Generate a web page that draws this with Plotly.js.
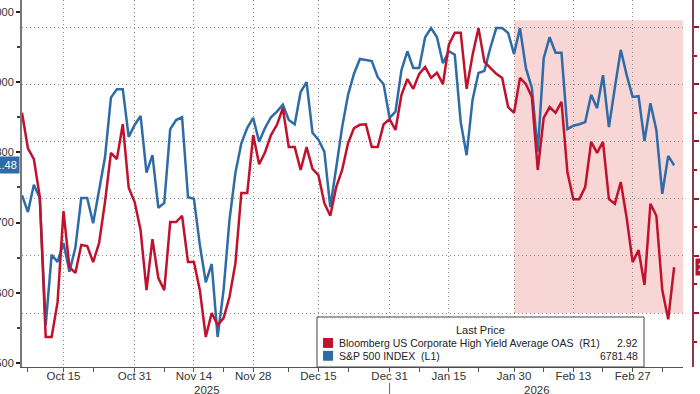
<!DOCTYPE html>
<html>
<head>
<meta charset="utf-8">
<script src="https://cdn.plot.ly/plotly-3.0.1.min.js"></script>
<style>
html,body{margin:0;padding:0;width:700px;height:394px;overflow:hidden;background:#fff;}
#chart{position:absolute;left:-30px;top:0;width:770px;height:394px;}
</style>
</head>
<body>
<div id="chart"></div>
<script>
// Trading dates (weekdays, Jan 1 holiday skipped)
const dates = [
'2025-10-06','2025-10-07','2025-10-08','2025-10-09','2025-10-10','2025-10-13','2025-10-14','2025-10-15','2025-10-16','2025-10-17',
'2025-10-20','2025-10-21','2025-10-22','2025-10-23','2025-10-24','2025-10-27','2025-10-28','2025-10-29','2025-10-30','2025-10-31',
'2025-11-03','2025-11-04','2025-11-05','2025-11-06','2025-11-07','2025-11-10','2025-11-11','2025-11-12','2025-11-13','2025-11-14',
'2025-11-17','2025-11-18','2025-11-19','2025-11-20','2025-11-21','2025-11-24','2025-11-25','2025-11-26','2025-11-27','2025-11-28',
'2025-12-01','2025-12-02','2025-12-03','2025-12-04','2025-12-05','2025-12-08','2025-12-09','2025-12-10','2025-12-11','2025-12-12',
'2025-12-15','2025-12-16','2025-12-17','2025-12-18','2025-12-19','2025-12-22','2025-12-23','2025-12-24','2025-12-25','2025-12-26',
'2025-12-29','2025-12-30','2025-12-31',
'2026-01-02','2026-01-05','2026-01-06','2026-01-07','2026-01-08','2026-01-09','2026-01-12','2026-01-13','2026-01-14','2026-01-15',
'2026-01-16','2026-01-19','2026-01-20','2026-01-21','2026-01-22','2026-01-23','2026-01-26','2026-01-27','2026-01-28','2026-01-29','2026-01-30',
'2026-02-02','2026-02-03','2026-02-04','2026-02-05','2026-02-06','2026-02-09','2026-02-10','2026-02-11','2026-02-12','2026-02-13',
'2026-02-16','2026-02-17','2026-02-18','2026-02-19','2026-02-20','2026-02-23','2026-02-24','2026-02-25','2026-02-26','2026-02-27',
'2026-03-02','2026-03-03','2026-03-04','2026-03-05','2026-03-06','2026-03-09','2026-03-10'
];

// S&P 500 INDEX (L1)
const spx = [
6739,6715,6754,6735,6554,6654,6644,6671,6630,6664,
6735,6735,6699,6746,6793,6878,6890,6890,6822,6839,
6852,6771,6796,6721,6728,6833,6846,6850,6736,6734,
6668,6615,6641,6537,6604,6704,6771,6813,6835,6849,
6815,6835,6850,6858,6868,6846,6840,6886,6900,6828,
6818,6801,6722,6778,6836,6882,6912,6933,6932,6930,
6907,6897,6849,
6858,6917,6944,6920,6920,6964,6977,6964,6927,6944,
6939,6843,6796,6875,6913,6916,6949,6977,6977,6970,6940,
6977,6920,6892,6801,6934,6964,6942,6942,6833,6838,
6840,6843,6882,6863,6910,6836,6892,6946,6910,6879,
6880,6816,6870,6832,6741,6795,6781.48
];

// Bloomberg US Corporate High Yield Average OAS (R1)
const oas = [
2.650,2.712,2.731,2.797,3.042,3.042,2.981,2.822,2.920,2.930,
2.881,2.883,2.911,2.878,2.806,2.720,2.731,2.670,2.781,2.806,
2.855,2.960,2.871,2.939,2.960,2.841,2.841,2.830,2.911,2.911,
2.960,3.042,3.000,3.021,3.009,2.972,2.913,2.790,2.790,2.689,
2.740,2.719,2.689,2.671,2.642,2.710,2.710,2.750,2.710,2.748,
2.759,2.808,2.830,2.780,2.750,2.703,2.677,2.671,2.670,2.710,
2.710,2.670,2.661,
2.680,2.619,2.591,2.608,2.582,2.570,2.589,2.580,2.600,2.531,
2.510,2.510,2.608,2.549,2.502,2.561,2.572,2.582,2.589,2.640,2.650,
2.589,2.600,2.622,2.750,2.659,2.640,2.650,2.631,2.754,2.801,
2.801,2.780,2.701,2.720,2.701,2.801,2.809,2.771,2.834,2.911,
2.890,2.951,2.809,2.830,2.960,3.011,2.92
];

const tickDates = ['2025-10-15','2025-10-31','2025-11-14','2025-11-28','2025-12-15','2025-12-31','2026-01-15','2026-01-30','2026-02-13','2026-02-27'];
const tickLabels = ['Oct 15','Oct 31','Nov 14','Nov 28','Dec 15','Dec 31','Jan 15','Jan 30','Feb 13','Feb 27'];
const minorTickDates = ['2025-10-07','2025-10-22','2025-11-07','2025-11-21','2025-12-08','2025-12-22','2026-01-08','2026-01-22','2026-02-06','2026-02-20','2026-03-06'];
const leftTicks = [6500,6600,6700,6800,6900,7000];
const rightTicks = [2.5,2.6,2.7,2.8,2.9,3.0];

const seriesNames = ['Bloomberg US Corporate High Yield Average OAS&nbsp;&nbsp;(R1)','S&amp;P 500 INDEX&nbsp;&nbsp;(L1)'];
const lastValues = ['2.92','6781.48'];

const RED = '#c0122d';
const BLUE = '#2e6ba7';
const FONT = 'Liberation Sans, Arial, sans-serif';

const traces = [
  {x: dates, y: spx, type: 'scatter', mode: 'lines', yaxis: 'y', line: {color: BLUE, width: 2.5}, hoverinfo: 'skip'},
  {x: dates, y: oas, type: 'scatter', mode: 'lines', yaxis: 'y2', line: {color: RED, width: 2.5}, hoverinfo: 'skip'}
];

const xd = 0.9866;
const layout = {
  width: 770, height: 394,
  margin: {l: 52, r: 48, t: 0, b: 27},
  paper_bgcolor: '#ffffff', plot_bgcolor: '#ffffff',
  showlegend: false,
  font: {family: FONT, size: 11, color: '#333'},
  xaxis: {
    type: 'date', domain: [0, xd],
    range: ['2025-10-06', '2026-03-11 12:00'],
    rangebreaks: [{bounds: ['sat', 'mon']}, {values: ['2026-01-01']}],
    tickmode: 'array', tickvals: tickDates, ticktext: tickLabels,
    ticks: 'outside', ticklen: 4, tickwidth: 1, tickcolor: '#555',
    ticklabelstandoff: -6,
    showgrid: true, gridcolor: '#8a8a8a', gridwidth: 1, griddash: '1px,3px',
    minor: {tickmode: 'array', tickvals: minorTickDates, ticks: 'outside', ticklen: 4, tickcolor: '#555', showgrid: false},
    showline: true, linecolor: '#555', linewidth: 1,
    zeroline: false,
    tickfont: {family: FONT, size: 11.5, color: '#333'}
  },
  yaxis: {
    range: [6494.3, 7017], tickmode: 'array', tickvals: leftTicks,
    ticks: 'outside', ticklen: 4, tickwidth: 2, tickcolor: '#222',
    minor: {dtick: 50, ticks: 'outside', ticklen: 3, tickcolor: '#444', showgrid: false},
    showgrid: false, zeroline: false,
    showline: true, linecolor: '#777', linewidth: 2,
    tickfont: {family: FONT, size: 11, color: '#333'}
  },
  yaxis2: {
    overlaying: 'y', side: 'right', anchor: 'free', position: 1,
    range: [3.0944, 2.4528], tickmode: 'array', tickvals: rightTicks,
    ticks: 'outside', ticklen: 5, tickwidth: 2, tickcolor: '#a0102a',
    minor: {dtick: 0.05, ticks: 'outside', ticklen: 3, tickcolor: '#a0102a', showgrid: false},
    showgrid: true, gridcolor: '#8a8a8a', gridwidth: 1, griddash: '1px,3px',
    zeroline: false, showline: true, linecolor: '#8a3a4a', linewidth: 1.5,
    tickfont: {family: FONT, size: 11, color: '#333'}
  },
  shapes: [
    {type: 'rect', layer: 'below', xref: 'x', yref: 'y2', x0: '2026-01-30', x1: '2026-03-11 12:00', y0: 3.0, y1: 2.488,
     fillcolor: '#f9d6d6', line: {width: 0}},
    {type: 'rect', layer: 'above', xref: 'paper', yref: 'paper', x0: 0.4403, x1: 0.9284, y0: 0.0, y1: 0.1362,
     fillcolor: '#ffffff', line: {color: '#444', width: 1}},
    {type: 'rect', layer: 'above', xref: 'paper', yref: 'paper', x0: 0.4493, x1: 0.4642, y0: 0.052, y1: 0.079,
     fillcolor: RED, line: {width: 0}},
    {type: 'rect', layer: 'above', xref: 'paper', yref: 'paper', x0: 0.4493, x1: 0.4642, y0: 0.017, y1: 0.044,
     fillcolor: BLUE, line: {width: 0}},
    {type: 'line', xref: 'x', yref: 'paper', x0: '2025-12-31', x1: '2025-12-31', y0: -0.043, y1: -0.08,
     line: {color: '#666', width: 1}}
  ],
  annotations: [
    {xref: 'paper', yref: 'paper', x: 0.6836, y: 0.1008, text: 'Last Price', showarrow: false, xanchor: 'center', yanchor: 'middle', font: {size: 11, color: '#222'}},
    {xref: 'paper', yref: 'paper', x: 0.4701, y: 0.0654, text: seriesNames[0], showarrow: false, xanchor: 'left', yanchor: 'middle', font: {size: 10.5, color: '#222'}},
    {xref: 'paper', yref: 'paper', x: 0.4701, y: 0.030, text: seriesNames[1], showarrow: false, xanchor: 'left', yanchor: 'middle', font: {size: 10.5, color: '#222'}},
    {xref: 'paper', yref: 'paper', x: 0.9224, y: 0.0654, text: lastValues[0], showarrow: false, xanchor: 'right', yanchor: 'middle', font: {size: 10.5, color: '#222'}},
    {xref: 'paper', yref: 'paper', x: 0.9224, y: 0.030, text: lastValues[1], showarrow: false, xanchor: 'right', yanchor: 'middle', font: {size: 10.5, color: '#222'}},
    {xref: 'paper', yref: 'paper', x: 0.2761, y: -0.064, text: '2025', showarrow: false, xanchor: 'center', yanchor: 'middle', font: {size: 11.5, color: '#333'}},
    {xref: 'paper', yref: 'paper', x: 0.7687, y: -0.064, text: '2026', showarrow: false, xanchor: 'center', yanchor: 'middle', font: {size: 11.5, color: '#333'}},
    {xref: 'paper', yref: 'y', x: 0, y: spx[spx.length - 1], text: lastValues[1], showarrow: false, xanchor: 'right', yanchor: 'middle', xshift: -2,
     bgcolor: BLUE, borderpad: 2, font: {size: 11, color: '#ffffff'}},
    {xref: 'paper', yref: 'y2', x: 1, y: oas[oas.length - 1], text: lastValues[0], showarrow: false, xanchor: 'left', yanchor: 'middle', xshift: 3,
     bgcolor: RED, borderpad: 2, font: {size: 11, color: '#ffffff'}}
  ]
};

Plotly.newPlot('chart', traces, layout, {staticPlot: true, displayModeBar: false});
</script>
</body>
</html>
